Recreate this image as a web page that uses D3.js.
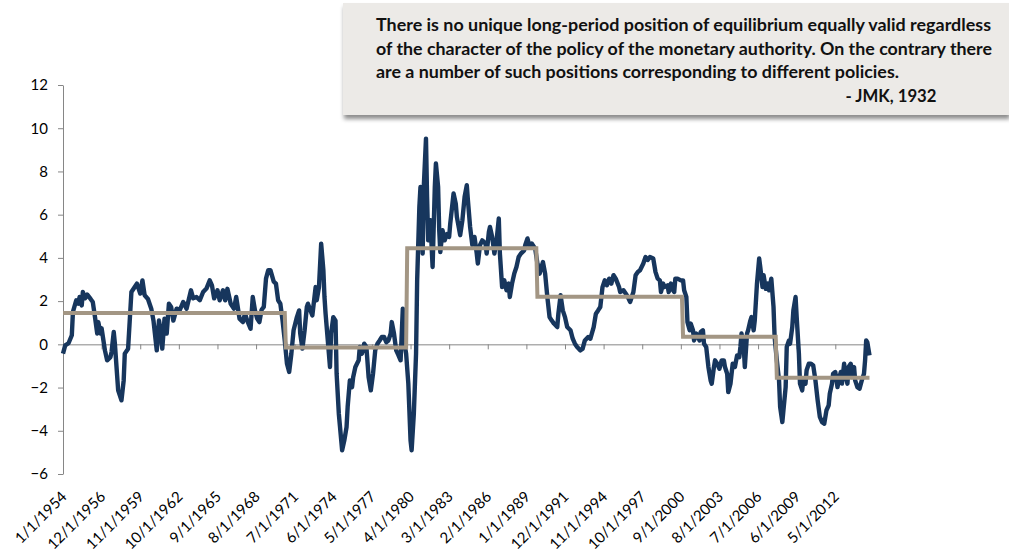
<!DOCTYPE html>
<html>
<head>
<meta charset="utf-8">
<script src="https://cdn.jsdelivr.net/npm/d3@7"></script>
<style>
  body { margin: 0; background: #fff; }
  svg { display: block; font-family: Lato, "Open Sans", sans-serif; }
</style>
</head>
<body>
<div id="chart"></div>
<script>
// months since Jan 1954 and the value at that month
const months = [0,2,5,8,9,12,14,15,17,18,20,22,25,27,29,31,32,34,35,38,40,43,44,46,47,50,53,55,56,59,
  62,65,67,70,72,74,77,80,82,85,87,88,90,92,94,96,98,100,103,106,109,112,116,118,121,124,127,130,133,135,
  137,140,142,145,147,149,152,155,157,160,163,165,167,170,172,174,176,178,180,182,184,186,188,191,193,195,197,199,201,203,
  205,207,209,212,214,215,217,219,221,222,224,226,229,230,232,234,236,237,238,240,242,243,245,247,248,250,253,255,257,258,
  260,262,263,265,268,269,271,273,275,277,279,281,283,285,287,289,291,293,295,297,298,300,302,304,306,308,310,311,313,315,
  316,318,320,321,323,324,326,327,329,330,331,333,335,337,338,340,341,342,344,346,348,350,351,354,356,357,360,362,364,366,
  367,369,371,373,375,376,378,380,383,384,386,387,389,391,393,395,396,398,400,402,404,405,407,409,411,413,415,418,419,421,
  423,425,428,430,432,435,437,439,441,443,445,448,449,451,453,455,457,460,462,464,466,469,471,473,476,478,481,483,485,487,
  489,491,493,495,497,499,501,504,505,508,510,512,514,517,519,521,523,526,528,530,532,535,537,539,541,542,544,545,548,549,
  551,552,554,555,557,560,562,563,565,566,568,569,571,572,574,577,578,580,581,583,585,587,588,590,591,593,595,597,599,600,
  602,603,605,607,609,611,613,614,615,617,618,620,621,623,624,626,627,629,631,632,634,635,637,639,640,642,644,645,647,649,
  650,652,653,655,656,658,659,661,662,664,665,667,668,670,671,673,674,676,678,680,682,684,686,688,690,692,694,695,697,698,
  700,702,703,705,706,708,709,711,712,714,715,717,718,720,722,724,726,727,728,729,731];
const values = [-0.43,-0.05,0.05,0.42,1.5,2.04,1.88,2.19,1.8,2.42,2.13,2.3,2.1,1.96,1.26,0.5,1.03,0.5,0.74,-0.28,-0.74,-0.59,-0.36,0.57,0.05,-2.13,-2.59,-1.67,-0.43,-0.2,
  2.42,2.65,2.81,2.35,2.96,2.27,2.1,1.65,1.1,-0.28,1.1,0.8,-0.2,1.19,0.5,1.88,1.73,1.1,1.65,1.6,1.96,1.65,2.5,2.13,2.19,2.04,2.42,2.58,2.96,2.73,
  2.13,2.5,2.04,2.5,2.04,2.57,1.88,1.65,2.19,1.19,1.03,1.42,1.1,0.72,2.19,1.57,1.19,1.03,1.6,1.73,3.04,3.43,3.43,2.9,2.81,2.04,1.88,1.1,0.18,-0.9,
  -1.28,-0.43,0.65,1.26,1.57,0.5,-0.2,0.65,1.73,1.88,1.6,1.34,2.65,2.04,2.65,4.66,3.43,2.19,1.42,0.18,-1.05,0.5,1.26,1.1,-1.36,-3.21,-4.9,-4.44,-3.83,-2.9,
  -1.67,-1.98,-1.52,-1.05,-0.74,-0.12,-0.43,0.03,-0.12,-1.52,-2.13,-1.36,-0.28,0.03,0.18,0.34,0.34,0.1,0.18,0.5,1.03,0.5,-0.28,-0.5,-0.74,1.65,-0.12,-0.43,-1.82,-4.44,
  -4.9,-3.21,-0.43,2.96,6.36,7.28,4.2,7.28,9.52,6.82,4.81,5.74,3.58,7.28,8.37,7.28,5.28,4.27,5.28,4.81,5.1,4.97,5.59,6.98,6.51,5.9,5.05,5.74,6.82,7.36,
  6.67,5.43,4.6,4.97,4.2,3.74,4.6,4.81,4.66,4.2,5.2,5.43,4.97,4.2,4.81,5.82,4.2,2.65,2.96,2.5,2.81,2.19,2.81,3.27,3.58,4.04,4.2,4.35,4.6,4.9,
  4.5,4.66,4.43,3.74,3.27,3.81,3.27,2.19,1.26,1.1,0.96,0.8,1.42,2.27,1.57,1.26,0.8,0.65,0.26,0.03,-0.12,-0.28,-0.2,0.18,0.34,0.26,0.8,1.42,1.57,1.73,
  2.65,2.96,2.73,3.04,2.81,3.2,3.04,2.65,2.42,2.5,2.35,2.19,1.96,2.42,3.2,3.35,3.43,3.74,4.04,3.9,4.04,3.97,3.35,3.04,2.96,2.42,2.81,2.65,2.73,2.42,
  2.81,2.57,2.42,3.04,3.04,2.96,2.96,2.5,2.19,1.03,0.65,0.96,0.65,0.18,0.5,0.18,0.57,0.65,0.03,-0.12,-1.05,-1.67,-1.82,-1.05,-0.74,-0.9,-1.13,-0.74,-0.74,-1.05,
  -1.36,-2.21,-1.82,-0.9,-1.05,-0.51,-0.59,-0.12,0.5,-0.12,-1.05,0.5,0.65,1.1,1.26,0.65,1.1,2.81,3.97,3.58,2.65,3.2,2.57,2.81,2.5,3.04,1.73,0.34,-0.74,-1.67,
  -2.9,-3.6,-3.05,-1.98,-0.12,0.18,0.03,0.8,1.57,2.19,1.26,-0.43,-1.82,-2.13,-1.67,-1.82,-1.2,-0.9,-0.9,-0.98,-1.67,-2.59,-3.36,-3.6,-3.67,-3.05,-2.82,-2.28,-1.82,-1.36,
  -1.28,-1.98,-1.67,-1.28,-1.82,-0.9,-1.36,-1.82,-1.05,-0.9,-1.51,-1.05,-1.67,-1.98,-2.05,-1.67,-1.36,-0.74,0.18,0.1,-0.51];

// equilibrium regimes (start month, level)
const regimeStarts = [0, 202, 312, 430, 562, 647];
const regimeLevels = [1.45, -0.15, 4.45, 2.2, 0.35, -1.55];
const lastMonth = 731;

const tickLabels = ['1/1/1954','12/1/1956','11/1/1959','10/1/1962','9/1/1965','8/1/1968','7/1/1971',
  '6/1/1974','5/1/1977','4/1/1980','3/1/1983','2/1/1986','1/1/1989','12/1/1991','11/1/1994',
  '10/1/1997','9/1/2000','8/1/2003','7/1/2006','6/1/2009','5/1/2012'];
const tickStep = 35;
const yTicks = [-6, -4, -2, 0, 2, 4, 6, 8, 10, 12];

const quoteLines = [
  'There is no unique long-period position of equilibrium equally valid regardless',
  'of the character of the policy of the monetary authority. On the contrary there',
  'are a number of such positions corresponding to different policies.'
];
const quoteAuthor = '- JMK, 1932';

const W = 1009, H = 557;
const svg = d3.select('#chart').append('svg').attr('width', W).attr('height', H);

const x = d3.scaleLinear().domain([0, lastMonth]).range([63, 869.5]);
const y = d3.scaleLinear().domain([-6, 12]).range([474, 85]);
const axisColor = '#868686';

// y axis
const yAxis = svg.append('g')
  .attr('transform', `translate(${x(0)},0)`)
  .call(d3.axisLeft(y).tickValues(yTicks).tickSize(5).tickSizeOuter(0).tickPadding(10));
yAxis.select('.domain').attr('stroke', axisColor);
yAxis.selectAll('.tick line').attr('stroke', axisColor);
yAxis.selectAll('.tick text').attr('font-size', 15).attr('fill', '#000').attr('font-family', 'Lato, sans-serif');

// x axis on the zero line
const tickMonths = tickLabels.map((d, i) => i * tickStep);
const xAxis = svg.append('g')
  .attr('transform', `translate(0,${y(0)})`)
  .call(d3.axisBottom(x).tickValues(tickMonths).tickSize(5).tickSizeOuter(0).tickFormat(''));
xAxis.select('.domain').attr('stroke', axisColor);
xAxis.selectAll('.tick line').attr('stroke', axisColor);

// rotated labels at the bottom
svg.append('g').selectAll('text')
  .data(tickLabels)
  .enter()
  .append('text')
    .attr('transform', (d, i) => `translate(${x(tickMonths[i]) + 1},494) rotate(-45)`)
    .attr('text-anchor', 'end')
    .attr('dy', '0.35em')
    .attr('font-size', 15)
    .attr('fill', '#000')
    .text(d => d);

// series
const series = months.map((m, i) => [m, values[i]]);
const line = d3.line().x(d => x(d[0])).y(d => y(d[1]));

svg.append('path')
  .datum(series)
  .attr('d', line)
  .attr('fill', 'none')
  .attr('stroke', '#17365D')
  .attr('stroke-width', 4.4)
  .attr('stroke-linejoin', 'round');

// equilibrium steps
const steps = [];
regimeStarts.forEach((s, i) => {
  const end = i < regimeStarts.length - 1 ? regimeStarts[i + 1] - 1 : lastMonth;
  steps.push([s, regimeLevels[i]], [end, regimeLevels[i]]);
});
svg.append('path')
  .datum(steps)
  .attr('d', line)
  .attr('fill', 'none')
  .attr('stroke', '#A39684')
  .attr('stroke-width', 4);

// quote box
const defs = svg.append('defs');
const f = defs.append('filter').attr('id', 'shadow').attr('x', '-5%').attr('y', '-10%').attr('width', '110%').attr('height', '130%');
f.append('feDropShadow').attr('dx', 1).attr('dy', 4).attr('stdDeviation', 2)
  .attr('flood-color', '#000').attr('flood-opacity', 0.45);

svg.append('rect')
  .attr('x', 343).attr('y', 3).attr('width', 666).attr('height', 112)
  .attr('fill', '#ECEAE7')
  .attr('filter', 'url(#shadow)');

// line widths as measured on the reference, text squeezed to fit them
const lineWidths = [615, 616, 523];
const lineYs = [31, 54.5, 78];
const quote = svg.append('g').attr('font-weight', 'bold').attr('fill', '#111').attr('font-size', 16.5);

quote.selectAll('.qline')
  .data(quoteLines)
  .enter()
  .append('text')
    .attr('class', 'qline')
    .attr('x', 376)
    .attr('y', (d, i) => lineYs[i])
    .attr('textLength', (d, i) => lineWidths[i])
    .attr('lengthAdjust', 'spacingAndGlyphs')
    .text(d => d);

quote.append('text')
  .attr('x', 845.5)
  .attr('y', 101.5)
  .attr('textLength', 91)
  .attr('lengthAdjust', 'spacingAndGlyphs')
  .text(quoteAuthor);
</script>
</body>
</html>
